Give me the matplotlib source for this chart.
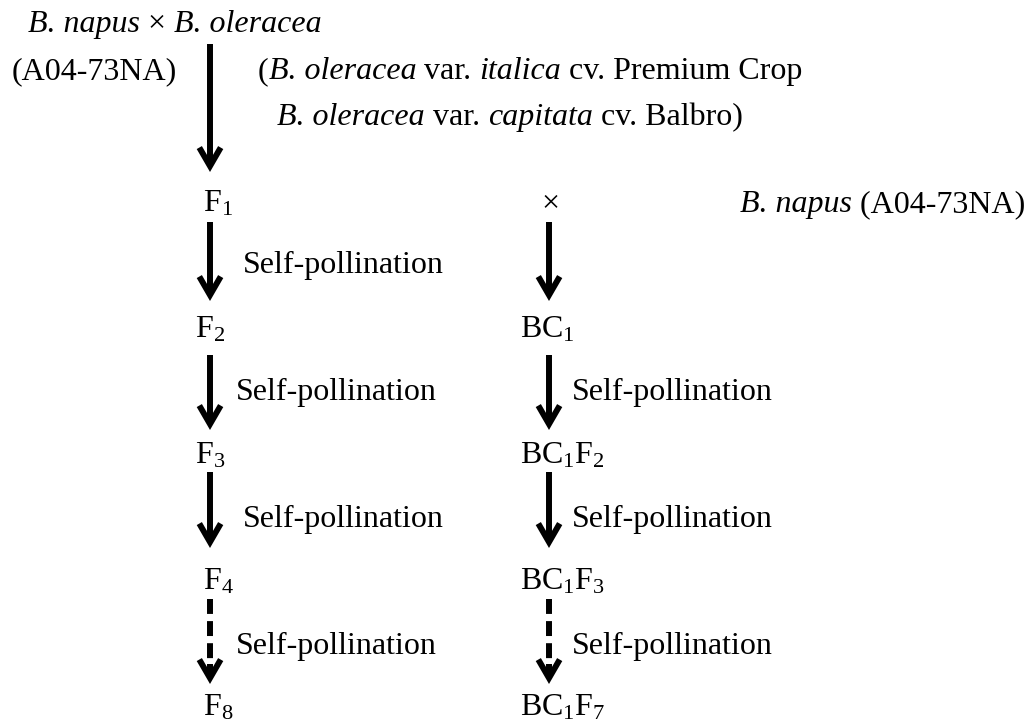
# Breeding scheme: B. napus x B. oleracea -> F and BC1 generations

# Importing Libraries
import matplotlib
matplotlib.use('Agg')
import matplotlib.pyplot as plt

plt.rcParams['font.family'] = ['Liberation Serif', 'DejaVu Serif']
plt.rcParams['mathtext.fontset'] = 'custom'
plt.rcParams['mathtext.rm'] = 'Liberation Serif'
plt.rcParams['mathtext.it'] = 'Liberation Serif:italic'
plt.rcParams['mathtext.bf'] = 'Liberation Serif:bold'

# Labels of the scheme (text, italic?)
cross_title = [('B. napus', True), (' × ', False), ('B. oleracea', True)]
female_parent = [('(A04-73NA)', False)]
male_parent_1 = [('(', False), ('B. oleracea', True), (' var. ', False),
                 ('italica', True), (' cv. Premium Crop', False)]
male_parent_2 = [('B. oleracea', True), (' var. ', False),
                 ('capitata', True), (' cv. Balbro)', False)]
backcross_parent = [('B. napus', True), (' (A04-73NA)', False)]
selfing_gens = [r'F$_1$', r'F$_2$', r'F$_3$', r'F$_4$', r'F$_8$']
backcross_gens = ['×', r'BC$_1$', r'BC$_1$F$_2$', r'BC$_1$F$_3$', r'BC$_1$F$_7$']
step_label = 'Self-pollination'
dashed_step = [False, False, False, True]   # last step skips generations

# Layout (pixel coordinates, y grows downwards)
fs = 23
left_x, right_x = 210, 549
row_base = [211, 337, 464, 590, 715]
step_base = [273, 400, 527, 654]
arrow_top = [222, 355, 472, 599]
arrow_tip = [301, 430, 548, 684]
left_label_x = [203, 195, 195, 203, 203]
right_label_x = [541, 520, 520, 520, 520]
left_step_x = [243, 236, 243, 236]
right_step_x = 572

fig = plt.figure(figsize=(10.26, 7.23), dpi=100)
ax = fig.add_axes([0, 0, 1, 1])
ax.set_xlim(0, 1026)
ax.set_ylim(723, 0)
ax.axis('off')

head = '->,head_length=0.95,head_width=0.55'


def draw_arrow(x, y0, y1, dashed=False):
    if dashed:
        ax.plot([x, x], [y0, y1 - 18], color='black', lw=4.3,
                linestyle=(0, (2.5, 1.2)), solid_capstyle='butt',
                dash_capstyle='butt')
        y0 = y1 - 20
    ax.annotate('', xy=(x, y1), xytext=(x, y0),
                arrowprops=dict(arrowstyle=head, lw=4.3, color='black',
                                shrinkA=0, shrinkB=0, mutation_scale=14,
                                joinstyle='miter', capstyle='butt'))


def rich_text(x, y, pieces):
    # chain italic / roman pieces one after the other on one baseline
    prev = None
    for s, it in pieces:
        style = 'italic' if it else 'normal'
        if prev is None:
            prev = ax.text(x, y, s, fontsize=fs, style=style, va='bottom')
        else:
            prev = ax.annotate(s, xy=(1, 0), xycoords=prev, fontsize=fs,
                               style=style, va='bottom', ha='left')


# Parents
rich_text(28, 39, cross_title)
rich_text(12, 86, female_parent)
rich_text(258, 86, male_parent_1)
rich_text(277, 132, male_parent_2)
draw_arrow(left_x, 44, 172)

# Generations
for i in range(len(selfing_gens)):
    ax.text(left_label_x[i], row_base[i], selfing_gens[i], fontsize=fs, va='baseline')
    ax.text(right_label_x[i], row_base[i], backcross_gens[i], fontsize=fs, va='baseline')
rich_text(740, row_base[0] + 8, backcross_parent)

# Self-pollination steps
for i in range(len(step_base)):
    draw_arrow(left_x, arrow_top[i], arrow_tip[i], dashed_step[i])
    draw_arrow(right_x, arrow_top[i], arrow_tip[i], dashed_step[i])
    ax.text(left_step_x[i], step_base[i], step_label, fontsize=fs, va='baseline')
    if i > 0:
        ax.text(right_step_x, step_base[i], step_label, fontsize=fs, va='baseline')

plt.savefig('out.png', dpi=100)
